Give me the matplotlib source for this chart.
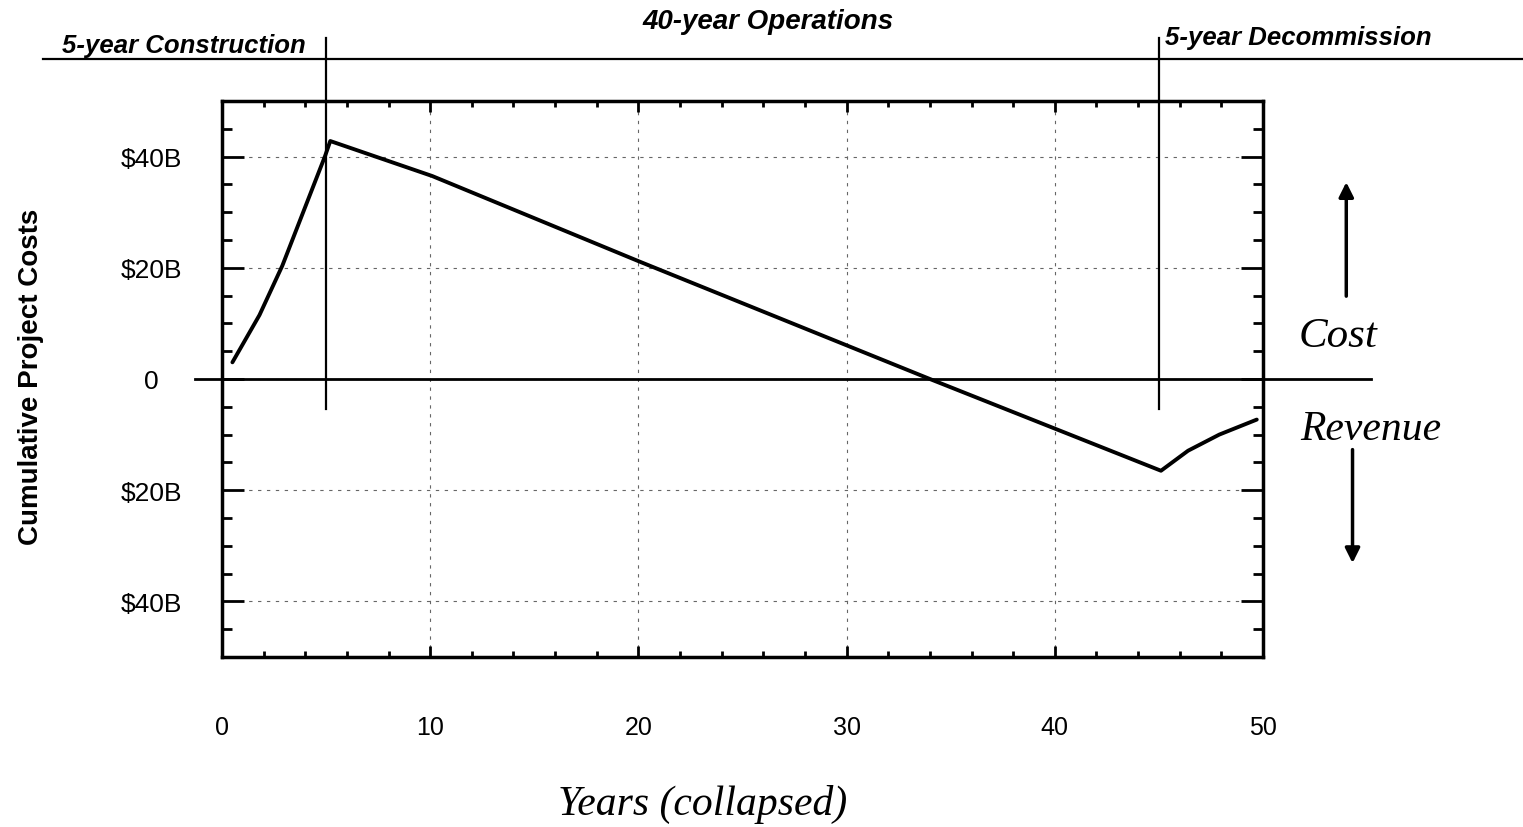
import numpy as np
import matplotlib.pyplot as plt
from matplotlib.ticker import MultipleLocator

plt.rcParams['font.family'] = 'Liberation Sans'

# cumulative project cost curve (years, $B)
years = [0.5, 1.8, 2.9, 4.95, 5.2, 10.1, 20.0, 34.0, 45.1, 46.4, 47.9, 49.7]
cost = [3.0, 11.5, 20.4, 40.1, 42.8, 36.5, 21.2, 0.0, -16.5, -12.9, -10.0, -7.3]

xticks = [0, 10, 20, 30, 40, 50]
yticks = [-40, -20, 0, 20, 40]
ylabels = ['$40B', '$20B', '0', '$20B', '$40B']
phase_bounds = [5, 45]

fig = plt.figure(figsize=(15.23, 8.28), dpi=100)
ax = fig.add_axes([222/1523, 1-658/828, 1041/1523, 556/828])

ax.plot(years, cost, color='black', lw=2.8, solid_capstyle='round')

ax.set_xlim(0, 50)
ax.set_ylim(-50, 50)
ax.set_xticks(xticks)
ax.set_yticks(yticks)
ax.set_yticklabels(ylabels)
ax.xaxis.set_minor_locator(MultipleLocator(2))
ax.yaxis.set_minor_locator(MultipleLocator(5))
ax.grid(True, which='major', color='0.4', lw=0.8, ls=(0, (3, 5)))

ax.tick_params(axis='both', which='both', direction='in', top=True, right=True, width=2)
ax.tick_params(axis='y', which='major', length=16, pad=51, labelsize=19)
ax.tick_params(axis='y', which='minor', length=7)
ax.tick_params(axis='x', which='major', length=8, pad=42, labelsize=18)
ax.tick_params(axis='x', which='minor', length=4)
for lab in ax.get_yticklabels():
    lab.set_horizontalalignment('center')
for sp in ax.spines.values():
    sp.set_linewidth(2.5)

# zero line across the plot
ax.plot([-1.3, 55.2], [0, 0], color='black', lw=2, clip_on=False)
# phase boundaries and header rule
for xb in phase_bounds:
    ax.plot([xb, xb], [61.4, -5.4], color='black', lw=1.6, clip_on=False)
ax.plot([-8.6, 62.5], [57.5, 57.5], color='black', lw=1.6, clip_on=False)

hdr = dict(fontweight='bold', fontstyle='italic', va='baseline')
fig.text(62/1523, 1-53/828, '5-year Construction', fontsize=18.5, **hdr)
fig.text(768/1523, 1-29/828, '40-year Operations', fontsize=20, ha='center', **hdr)
fig.text(1165/1523, 1-45/828, '5-year Decommission', fontsize=18.5, **hdr)

ax.set_ylabel('Cumulative Project Costs', fontsize=20, fontweight='bold')
ax.yaxis.set_label_coords(-0.171, 0.505)
ax.set_xlabel('Years (collapsed)', fontsize=30, fontstyle='italic', family='Liberation Serif')
ax.xaxis.set_label_coords(0.462, -0.228)

ax.text(53.6, 7.8, 'Cost', fontsize=31, fontstyle='italic', family='Liberation Serif', ha='center', va='center')
ax.text(55.2, -8.9, 'Revenue', fontsize=30, fontstyle='italic', family='Liberation Serif', ha='center', va='center')
ax.annotate('', xy=(54.0, 35.9), xytext=(54.0, 14.4), annotation_clip=False,
            arrowprops=dict(arrowstyle='-|>', color='black', lw=2.5, mutation_scale=22))
ax.annotate('', xy=(54.3, -33.6), xytext=(54.3, -12.2), annotation_clip=False,
            arrowprops=dict(arrowstyle='-|>', color='black', lw=2.5, mutation_scale=22))

fig.savefig('out.png', dpi=100)
